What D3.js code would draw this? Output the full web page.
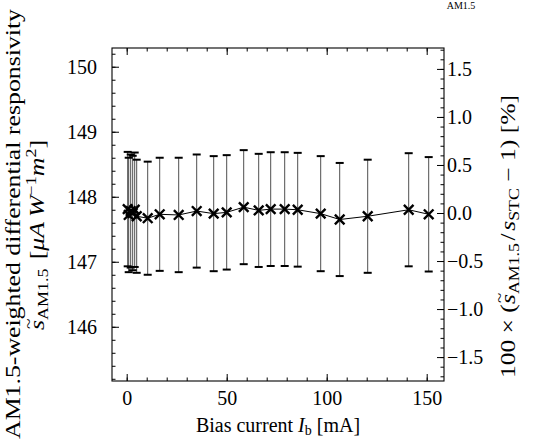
<!DOCTYPE html>
<html><head><meta charset="utf-8">
<script src="https://cdn.jsdelivr.net/npm/d3@7"></script>
<style>
html,body{margin:0;padding:0;background:#fff;}
svg text{font-family:"Liberation Serif","Times New Roman",serif;fill:#000;}
</style></head>
<body>
<svg id="chart" width="534" height="442"></svg>
<script>
// ---- data ----
const biasCurrent = [0.5, 1, 2, 3, 4, 5, 10.5, 16.5, 26, 35, 43.5, 50, 58.5, 66, 72, 79, 85.5, 97, 106.5, 120.5, 141, 151];
const responsivity = [147.81, 147.72, 147.78, 147.75, 147.80, 147.70, 147.67, 147.73, 147.72, 147.78, 147.74, 147.76, 147.84, 147.79, 147.81, 147.81, 147.80, 147.74, 147.65, 147.70, 147.80, 147.73];
const responsivityErr = [0.88, 0.88, 0.87, 0.88, 0.88, 0.87, 0.87, 0.87, 0.88, 0.87, 0.885, 0.88, 0.877, 0.87, 0.875, 0.875, 0.875, 0.885, 0.87, 0.87, 0.87, 0.88];
const sSTC = 147.75;
const xTicks = [0, 50, 100, 150];
const yTicks = [146, 147, 148, 149, 150];
const y2Ticks = [-1.5, -1.0, -0.5, 0.0, 0.5, 1.0, 1.5];

// ---- layout ----
const FONT = '"Liberation Serif","Times New Roman",serif';
const FS = 20;
const L = 112, R = 444, T = 48, B = 381;
const svg = d3.select("#chart");
const x = d3.scaleLinear().domain([-7.35, 158.65]).range([L, R]);
const y = d3.scaleLinear().domain([145.166, 150.288]).range([B, T]);
const y2 = d3.scaleLinear().domain([100*(145.166/sSTC-1), 100*(150.288/sSTC-1)]).range([B, T]);

const fmtMinus = s => s.replace("-", "\u2212");

const maj = 7, mnr = 3.5;
function styleAxis(g){
  g.attr("font-family", FONT).attr("font-size", FS);
  g.select(".domain").remove();
  g.selectAll("line").attr("stroke","#000").attr("stroke-width",1);
  g.selectAll("text").attr("font-family", FONT).attr("font-size", FS);
}

svg.append("g").attr("transform",`translate(0,${B})`)
  .call(d3.axisBottom(x).tickValues(d3.range(0,160,10)).tickSize(-mnr).tickFormat(""))
  .call(styleAxis);
svg.append("g").attr("transform",`translate(0,${B})`)
  .call(d3.axisBottom(x).tickValues(xTicks).tickSize(-maj).tickPadding(10).tickFormat(d3.format("d")))
  .call(styleAxis);
svg.append("g").attr("transform",`translate(0,${T})`)
  .call(d3.axisTop(x).tickValues(d3.range(0,160,10)).tickSize(-mnr).tickFormat(""))
  .call(styleAxis);
svg.append("g").attr("transform",`translate(0,${T})`)
  .call(d3.axisTop(x).tickValues(xTicks).tickSize(-maj).tickFormat(""))
  .call(styleAxis);

svg.append("g").attr("transform",`translate(${L},0)`)
  .call(d3.axisLeft(y).tickValues(d3.range(145.2,150.3,0.2)).tickSize(-mnr).tickFormat(""))
  .call(styleAxis);
svg.append("g").attr("transform",`translate(${L},0)`)
  .call(d3.axisLeft(y).tickValues(yTicks).tickSize(-maj).tickPadding(15).tickFormat(d3.format("d")))
  .call(styleAxis);

svg.append("g").attr("transform",`translate(${R},0)`)
  .call(d3.axisRight(y2).tickValues(d3.range(-17,18,1).map(v=>v/10)).tickSize(-mnr).tickFormat(""))
  .call(styleAxis);
svg.append("g").attr("transform",`translate(${R},0)`)
  .call(d3.axisRight(y2).tickValues(y2Ticks).tickSize(-maj).tickPadding(3).tickFormat(d=>fmtMinus(d3.format(".1f")(d))))
  .call(styleAxis);

// frame
svg.append("rect").attr("x",L).attr("y",T).attr("width",R-L).attr("height",B-T)
  .attr("fill","none").attr("stroke","#000").attr("stroke-width",1.1);

// error bars
const pts = biasCurrent.map((c,i)=>({c, v:responsivity[i], e:responsivityErr[i]}));
const eb = svg.append("g");
eb.selectAll("line.v").data(pts).join("line")
  .attr("x1",d=>x(d.c)).attr("x2",d=>x(d.c))
  .attr("y1",d=>y(d.v+d.e)).attr("y2",d=>y(d.v-d.e))
  .attr("stroke","#222").attr("stroke-width",0.8);
[1,-1].forEach(s=>{
  eb.append("g").selectAll("line").data(pts).join("line")
    .attr("x1",d=>x(d.c)-4).attr("x2",d=>x(d.c)+4)
    .attr("y1",d=>y(d.v+s*d.e)).attr("y2",d=>y(d.v+s*d.e))
    .attr("stroke","#000").attr("stroke-width",2);
});

// connecting line
svg.append("path").datum(pts)
  .attr("d",d3.line().x(d=>x(d.c)).y(d=>y(d.v)))
  .attr("fill","none").attr("stroke","#000").attr("stroke-width",1);

// x markers
const ms = 4.8;
svg.append("g").selectAll("path").data(pts).join("path")
  .attr("d",d=>{const cx=x(d.c), cy=y(d.v);
    return `M${cx-ms},${cy-ms}L${cx+ms},${cy+ms}M${cx-ms},${cy+ms}L${cx+ms},${cy-ms}`;})
  .attr("stroke","#000").attr("stroke-width",2.4).attr("fill","none");

// x title
const xt = svg.append("text").attr("x",278).attr("y",432).attr("text-anchor","middle").attr("font-size",FS);
xt.append("tspan").text("Bias current ");
xt.append("tspan").attr("font-style","italic").text("I");
xt.append("tspan").attr("font-size",14).attr("dy",3).text("b");
xt.append("tspan").attr("dy",-3).text(" [mA]");

// rich text built from separate pieces, laid out left-to-right in a group
function richText(parent, pieces, fs){
  const g = parent.append("g");
  let cx = 0;
  pieces.forEach(p=>{
    const small = p.sub || p.sup;
    const f = small ? fs*0.7 : fs;
    const yy = p.sub ? fs*0.2 : (p.sup ? -fs*0.42 : 0);
    const t = g.append("text").attr("x",cx).attr("y",yy).attr("font-size",f)
      .attr("font-style",p.it?"italic":"normal").style("white-space","pre").text(p.t);
    const w = t.node().getComputedTextLength();
    if (p.tilde) {
      g.append("text").attr("x",cx + w/2 + 1).attr("y",-fs*0.5).attr("text-anchor","middle")
        .attr("font-size",fs*0.75).text("~");
    }
    cx += w + (p.gap || 0);
  });
  return {g, width: cx};
}
function placeRot(obj, bx, y0, y1){
  const k = (y0 - y1) / obj.width;
  obj.g.attr("transform",`translate(${bx},${y0}) rotate(-90) scale(${k},1)`);
}

// left title (two lines)
svg.append("text").attr("font-size",21).attr("text-anchor","start")
  .attr("transform","translate(20,439) rotate(-90)")
  .attr("textLength",430).attr("lengthAdjust","spacingAndGlyphs")
  .text("AM1.5-weighted differential responsivity");

const l2 = richText(svg, [
  {t:"s", it:true, tilde:true},
  {t:"AM1.5", sub:true, gap:7},
  {t:"["},
  {t:"\u03bcA", it:true, gap:4},
  {t:"W", it:true},
  {t:"\u22121", sup:true},
  {t:"m", it:true},
  {t:"2", sup:true},
  {t:"]"}
], 20);
placeRot(l2, 44, 330, 140);

// right title
const rt = richText(svg, [
  {t:"100 \u00d7 ("},
  {t:"s", it:true, tilde:true},
  {t:"AM1.5", sub:true, gap:2},
  {t:"/", gap:2},
  {t:"s", it:true},
  {t:"STC", sub:true},
  {t:" \u2212 1) [%]"}
], 20);
placeRot(rt, 515, 378, 95);

// small fragment at top right
svg.append("text").attr("x",461).attr("y",9).attr("text-anchor","middle").attr("font-size",10).text("AM1.5");
</script>
</body></html>
